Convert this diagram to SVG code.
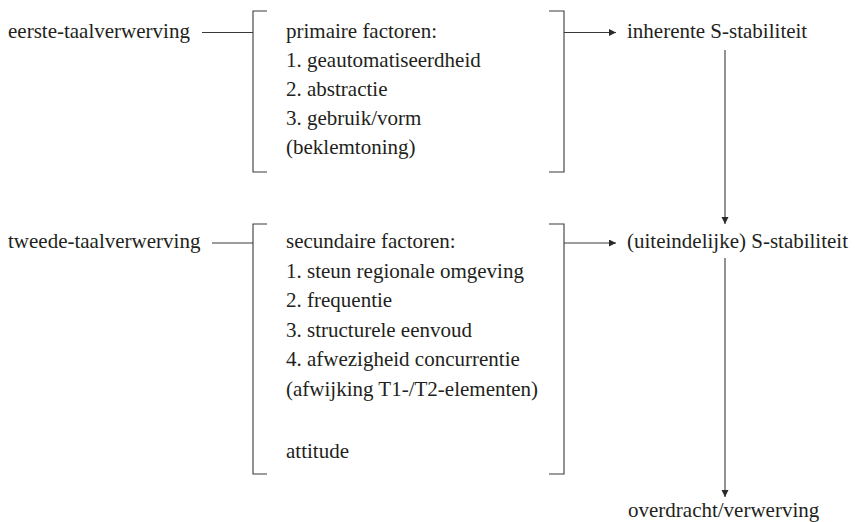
<svg xmlns="http://www.w3.org/2000/svg" width="855" height="522" viewBox="0 0 855 522">
  <style>
    text { font-family: "Liberation Serif", "Times New Roman", "DejaVu Serif", serif; font-size: 21px; fill: #231f20; }
    .br { fill: none; stroke: #3a3a3a; stroke-width: 1.1; }
    .cn { fill: none; stroke: #3a3a3a; stroke-width: 1.1; }
    .ar { marker-end: url(#arrow); }
  </style>
  <defs>
    <marker id="arrow" markerUnits="userSpaceOnUse" markerWidth="8" markerHeight="8" refX="7" refY="3.5" orient="auto">
      <path d="M0,0 L7,3.5 L0,7 z" fill="#2a2a2a"/>
    </marker>
  </defs>
  <rect width="855" height="522" fill="#ffffff"/>

  <g id="connectors">
    <line class="cn" x1="202" y1="32.5" x2="253" y2="32.5"/>
    <line class="cn" x1="212" y1="243" x2="253" y2="243"/>
    <line class="cn ar" x1="564" y1="32.5" x2="616" y2="32.5"/>
    <line class="cn ar" x1="564" y1="243" x2="616" y2="243"/>
    <line class="cn ar" x1="725" y1="50" x2="725" y2="224"/>
    <line class="cn ar" x1="725" y1="258" x2="725" y2="497"/>
  </g>

  <g id="eerste-taalverwerving">
    <text x="8" y="37.5">eerste-taalverwerving</text>
  </g>
  <g id="tweede-taalverwerving">
    <text x="8" y="248">tweede-taalverwerving</text>
  </g>

  <g id="primaire-factoren">
    <path class="br" d="M267,11 H253 V172 H267"/>
    <path class="br" d="M549,11 H564 V172 H549"/>
    <text x="286" y="37.5">primaire factoren:</text>
    <text x="286" y="66.5">1. geautomatiseerdheid</text>
    <text x="286" y="95.5">2. abstractie</text>
    <text x="286" y="124.5">3. gebruik/vorm</text>
    <text x="286" y="153.5">(beklemtoning)</text>
  </g>

  <g id="secundaire-factoren">
    <path class="br" d="M267,224 H253 V474 H267"/>
    <path class="br" d="M549,224 H564 V474 H549"/>
    <text x="286" y="248">secundaire factoren:</text>
    <text x="286" y="277.5">1. steun regionale omgeving</text>
    <text x="286" y="307">2. frequentie</text>
    <text x="286" y="336.5">3. structurele eenvoud</text>
    <text x="286" y="366">4. afwezigheid concurrentie</text>
    <text x="286" y="395.5">(afwijking T1-/T2-elementen)</text>
    <text x="286" y="458">attitude</text>
  </g>

  <g id="inherente-s-stabiliteit">
    <text x="627" y="37.5">inherente S-stabiliteit</text>
  </g>
  <g id="uiteindelijke-s-stabiliteit">
    <text x="627" y="248">(uiteindelijke) S-stabiliteit</text>
  </g>
  <g id="overdracht-verwerving">
    <text x="628" y="517">overdracht/verwerving</text>
  </g>
</svg>
